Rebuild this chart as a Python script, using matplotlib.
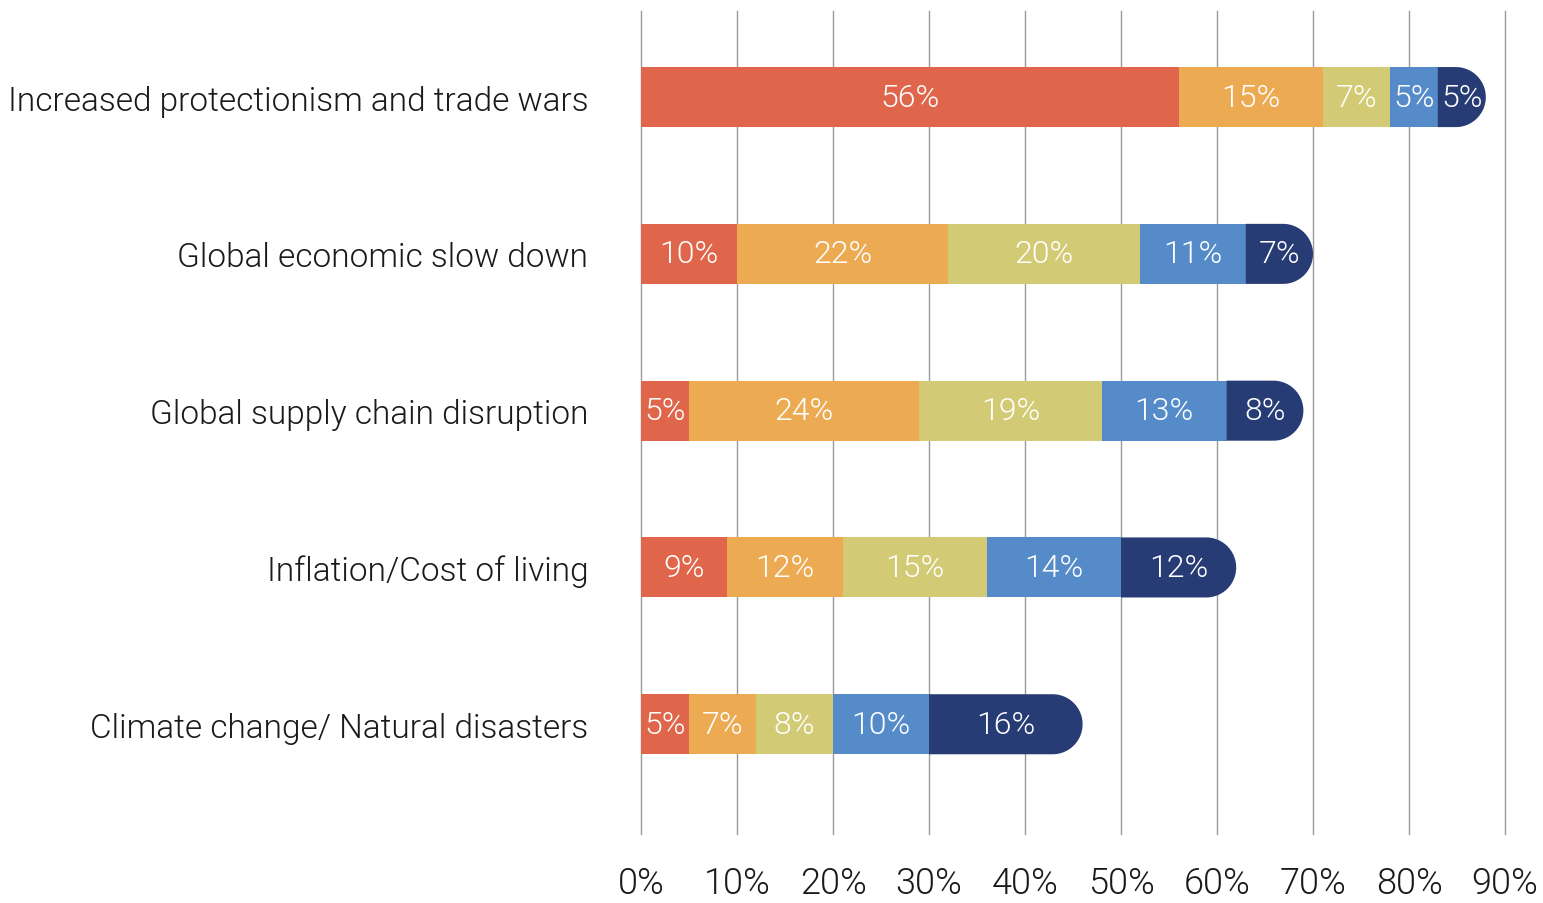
import matplotlib
matplotlib.use("Agg")
import matplotlib.pyplot as plt
from matplotlib.patches import Polygon
import numpy as np

# survey shares per risk, stacked from left (red) to right (navy)
categories = ["Increased protectionism and trade wars",
              "Global economic slow down",
              "Global supply chain disruption",
              "Inflation/Cost of living",
              "Climate change/ Natural disasters"]
red = [56, 10, 5, 9, 5]
orange = [15, 22, 24, 12, 7]
olive = [7, 20, 19, 15, 8]
blue = [5, 11, 13, 14, 10]
navy = [5, 7, 8, 12, 16]
ticks = [0, 10, 20, 30, 40, 50, 60, 70, 80, 90]

series = [red, orange, olive, blue, navy]
colors = ["#E0664B", "#ECAB52", "#D2CA74", "#558BC9", "#273B75"]

plt.rcParams['font.family'] = ['Roboto', 'DejaVu Sans']
FW = 300

W, H = 1543, 904
fig = plt.figure(figsize=(W / 100, H / 100), dpi=100)
ax = fig.add_axes([641 / W, (H - 835) / H, 864 / W, (835 - 12) / H])

bar_h = 0.383
# radius of the round cap, in x data units (30 px at 9.6 px per %)
r = 30 / (864 / 90)
t = np.linspace(-np.pi / 2, np.pi / 2, 60)

for i, cat in enumerate(categories):
    left = 0
    for k, (vals, c) in enumerate(zip(series, colors)):
        w = vals[i]
        if k == len(series) - 1:
            # last segment: rectangle with a half-round right end
            cx = left + w - r
            cap = np.column_stack([cx + r * np.cos(t),
                                   i + bar_h / 2 * np.sin(t)])
            pts = np.vstack([[left, i - bar_h / 2], cap,
                             [left, i + bar_h / 2]])
            ax.add_patch(Polygon(pts, closed=True, color=c, zorder=2,
                                 lw=0, clip_on=False))
        else:
            ax.barh(i, w, left=left, height=bar_h, color=c, zorder=2, lw=0)
        ax.text(left + w / 2, i, f"{w}%", ha='center', va='center',
                color='white', fontsize=23, fontweight=FW, zorder=3)
        left += w

for x in ticks:
    ax.axvline(x, color='#9a9a9a', lw=1, zorder=0, clip_on=False)

ax.set_xlim(0, 90)
ax.set_ylim(4.70, -0.549)
ax.set_xticks(ticks)
ax.set_xticklabels([f"{t}%" for t in ticks], fontsize=26, color='#1a1a1a',
                   fontweight=FW)
ax.set_yticks(range(len(categories)))
ax.set_yticklabels(categories, fontsize=24, color='#1a1a1a', fontweight=FW)
ax.tick_params(axis='x', length=0, pad=22)
ax.tick_params(axis='y', length=0, pad=38)
for s in ax.spines.values():
    s.set_visible(False)

fig.savefig("out.png", dpi=100)
